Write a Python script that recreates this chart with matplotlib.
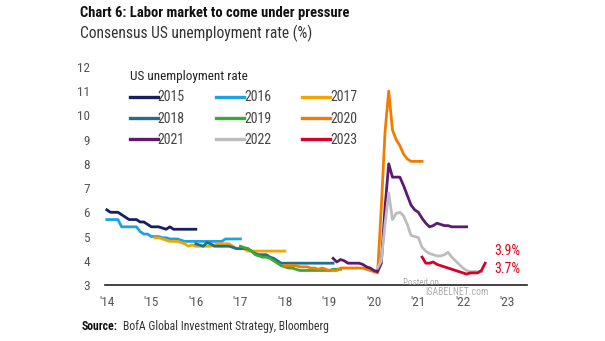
import matplotlib
matplotlib.use('Agg')
import matplotlib.pyplot as plt
import numpy as np

plt.rcParams['font.family'] = ['Roboto Condensed', 'Roboto', 'DejaVu Sans']

# consensus forecasts by target year, monthly, start = first month (decimal year)
years = ['2015', '2016', '2017', '2018', '2019', '2020', '2021', '2022', '2023']
colors = ['#171f5c', '#1ca3e0', '#f5a500', '#1f6e8c', '#3aaa35',
          '#f27c00', '#5b1a6e', '#bdbdbd', '#d6002a']
starts = [2014 + 0/12, 2014 + 0/12, 2014 + 13/12, 2014 + 24/12, 2014 + 36/12,
          2014 + 48/12, 2014 + 61/12, 2014 + 73/12, 2014 + 85/12]

f2015 = [6.1, 6.0, 6.0, 6.0, 5.9, 5.8, 5.7, 5.7, 5.7, 5.6, 5.6, 5.5, 5.4, 5.4,
         5.4, 5.35, 5.3, 5.4, 5.3, 5.3, 5.3, 5.3, 5.3, 5.3, 5.3]
f2016 = [5.7, 5.7, 5.7, 5.7, 5.4, 5.4, 5.4, 5.4, 5.4, 5.2, 5.1, 5.1, 5.0, 5.0,
         5.0, 4.95, 4.95, 4.9, 4.9, 4.9, 4.85, 4.8, 4.8, 4.8, 4.8, 4.8, 4.8,
         4.8, 4.8, 4.8, 4.8, 4.8, 4.9, 4.9, 4.9, 4.9, 4.9]
f2017 = [4.95, 4.95, 4.9, 4.85, 4.8, 4.8, 4.8, 4.75, 4.7, 4.6, 4.65, 4.6, 4.6,
         4.6, 4.6, 4.6, 4.65, 4.7, 4.7, 4.7, 4.7, 4.6, 4.5, 4.5, 4.5, 4.4, 4.4,
         4.4, 4.4, 4.4, 4.4, 4.4, 4.4, 4.4, 4.4, 4.4]
f2018 = [4.7, 4.65, 4.6, 4.75, 4.7, 4.6, 4.6, 4.6, 4.6, 4.6, 4.55, 4.5, 4.5,
         4.5, 4.5, 4.4, 4.3, 4.25, 4.25, 4.25, 4.15, 4.1, 4.0, 3.9, 3.9, 3.9,
         3.9, 3.9, 3.9, 3.9, 3.9, 3.9, 3.9, 3.9, 3.9, 3.9, 3.9, 3.9]
f2019 = [4.6, 4.55, 4.5, 4.4, 4.25, 4.2, 4.15, 4.15, 4.1, 4.0, 3.9, 3.8, 3.75,
         3.7, 3.7, 3.65, 3.6, 3.6, 3.6, 3.6, 3.6, 3.6, 3.6, 3.6, 3.6, 3.65,
         3.65, 3.65]
f2020 = [3.8, 3.8, 3.8, 3.8, 3.75, 3.75, 3.75, 3.7, 3.7, 3.65, 3.7, 3.65, 3.6,
         3.6, 3.6, 3.7, 3.7, 3.7, 3.7, 3.7, 3.7, 3.7, 3.65, 3.6, 3.55, 3.5,
         6.2, 9.3, 11.0, 9.4, 9.0, 8.75, 8.4, 8.2, 8.1, 8.1, 8.1, 8.1]
f2021 = [4.1, 3.95, 4.05, 4.0, 3.9, 3.9, 3.9, 3.9, 3.85, 3.75, 3.7, 3.6, 3.55,
         3.9, 6.2, 8.0, 7.45, 7.45, 7.45, 7.1, 6.7, 6.3, 6.1, 6.0, 5.75, 5.55,
         5.4, 5.45, 5.55, 5.5, 5.45, 5.45, 5.4, 5.4, 5.4, 5.4, 5.4]
f2022 = [3.7, 4.0, 5.5, 6.8, 5.7, 5.95, 6.0, 5.85, 5.5, 5.05, 5.0, 4.95, 4.55,
         4.4, 4.3, 4.25, 4.2, 4.2, 4.25, 4.35, 4.15, 4.0, 3.85, 3.7, 3.6,
         3.55, 3.55, 3.55, 3.55]
f2023 = [4.15, 3.9, 3.9, 3.95, 3.85, 3.8, 3.75, 3.7, 3.65, 3.6, 3.55, 3.5,
         3.45, 3.5, 3.5, 3.5, 3.6, 3.9]
forecasts = [f2015, f2016, f2017, f2018, f2019, f2020, f2021, f2022, f2023]

xtick_pos = list(range(2014, 2024))
xtick_labels = ["'14", "'15", "'16", "'17", "'18", "'19", "'20", "'21", "'22", "'23"]
end_labels = ['3.9%', '3.7%']

fig = plt.figure(figsize=(6.05, 3.41), dpi=100)
ax = fig.add_axes([0.1736, 0.1642, 0.6975, 0.654])

lines = []
for yr, col, st, vals in zip(years, colors, starts, forecasts):
    t = st + np.arange(len(vals)) / 12
    ln, = ax.plot(t, vals, color=col, lw=2.0, label=yr)
    lines.append(ln)

ax.set_xlim(2013.96, 2023.44)
ax.set_ylim(3, 12.2)
ax.set_yticks(range(3, 13))
ax.set_xticks(xtick_pos)
ax.set_xticklabels(xtick_labels)
ax.tick_params(axis='both', length=0, labelsize=9.5, labelcolor='#555555')
ax.tick_params(axis='y', pad=11)
ax.tick_params(axis='x', pad=8)
for s in ['top', 'right', 'left']:
    ax.spines[s].set_visible(False)
ax.spines['bottom'].set_color('#222222')
ax.spines['bottom'].set_linewidth(1.2)

# legend is filled column-wise, so reorder to read row-wise
order = [0, 3, 6, 1, 4, 7, 2, 5, 8]
leg = ax.legend([lines[i] for i in order], [years[i] for i in order],
                ncol=3, frameon=False, loc='upper left',
                bbox_to_anchor=(0.215, 0.794), bbox_transform=fig.transFigure,
                title='US unemployment rate', alignment='left',
                fontsize=10, title_fontsize=9.5, handlelength=2.0,
                handletextpad=0.0, columnspacing=2.25, labelspacing=0.52,
                borderpad=0, borderaxespad=0)
for txt in leg.get_texts():
    txt.set_color('#444444')
for h in leg.legend_handles:
    h.set_linewidth(2.4)
leg.get_title().set_color('#222222')

ax.text(2022.99, 4.40, end_labels[0], color='#e3001b', fontsize=10,
        ha='center', va='center')
ax.text(2022.99, 3.66, end_labels[1], color='#e3001b', fontsize=10,
        ha='center', va='center')

# watermark
fig.text(0.695, 0.172, 'Posted on', color='#999999', fontsize=6.5, ha='center',
         va='center', alpha=0.8)
fig.text(0.755, 0.145, 'ISABELNET.com', color='#999999', fontsize=7,
         ha='center', va='center', alpha=0.8)

fig.text(0.132, 0.962, 'Chart 6: Labor market to come under pressure',
         fontsize=10.5, fontweight='bold', color='#111111', ha='left', va='center')
fig.text(0.132, 0.903, 'Consensus US unemployment rate (%)',
         fontsize=11.2, color='#333333', ha='left', va='center')
fig.text(0.135, 0.042, 'Source:', fontsize=8.5, fontweight='bold', color='#111111',
         ha='left', va='center')
fig.text(0.203, 0.042, 'BofA Global Investment Strategy, Bloomberg', fontsize=8.5,
         color='#333333', ha='left', va='center')

fig.savefig('out.png', dpi=100)
